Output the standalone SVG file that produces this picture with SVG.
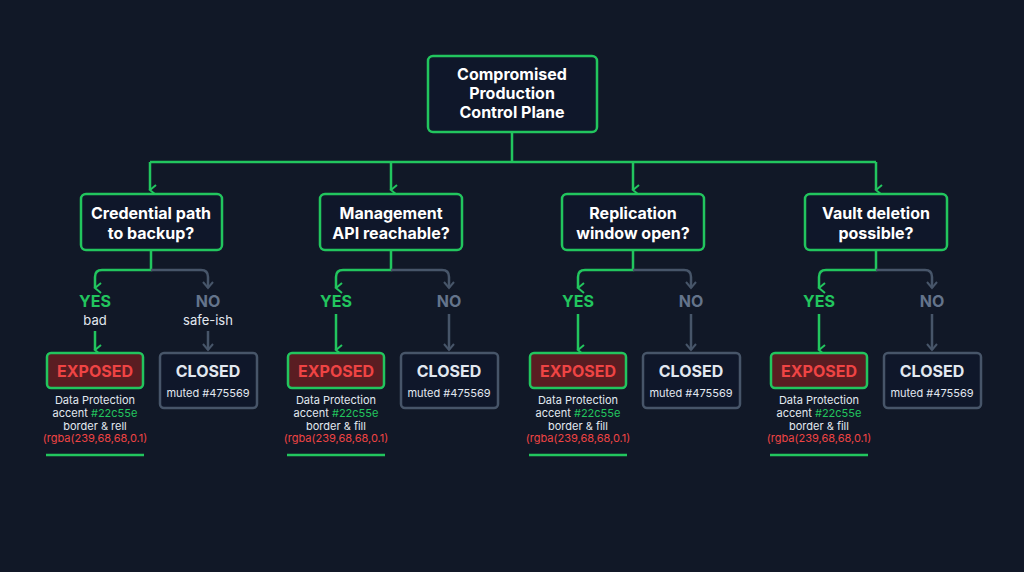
<svg xmlns="http://www.w3.org/2000/svg" width="1024" height="572" viewBox="0 0 1024 572">
<style>
text{font-family:Inter,"Liberation Sans",sans-serif;text-anchor:middle}
.g{stroke:#22c55e;stroke-width:2.5;fill:none}
.m{stroke:#475569;stroke-width:2.5;fill:none}
.box{fill:#0f172a;stroke:#22c55e;stroke-width:2.5}
.t{fill:#fff;font-weight:700;font-size:16px}
.yes{fill:#22c55e;font-weight:700;font-size:16px}
.no{fill:#64748b;font-weight:700;font-size:16px}
.s{fill:#e2e8f0;font-size:13px}
.exp{fill:#5a1d22;stroke:#22c55e;stroke-width:2.5}
.expt{fill:#ef4444;font-weight:700;font-size:16px}
.cl{fill:#0f172a;stroke:#475569;stroke-width:2.5}
.clt{fill:#e2e8f0;font-weight:700;font-size:16px}
.sm{fill:#e2e8f0;font-size:11px}
.ac{fill:#22c55e}
.rd{fill:#ef4444}
</style>
<defs>
<marker id="ag" viewBox="0 0 12 12" refX="6" refY="10" markerWidth="12" markerHeight="12" markerUnits="userSpaceOnUse" orient="auto-start-reverse"><path d="M1,4 L6,10 L11,4" fill="none" stroke="#22c55e" stroke-width="2"/></marker>
<marker id="am" viewBox="0 0 12 12" refX="6" refY="10" markerWidth="12" markerHeight="12" markerUnits="userSpaceOnUse"><path d="M1,4 L6,10 L11,4" fill="none" stroke="#475569" stroke-width="2"/></marker>
</defs>
<rect width="1024" height="572" fill="#111827"/>
<g id="connectors">
<path class="g" d="M512,132 V162 M150,162 H876"/>
<path class="g" d="M150,162 V190" marker-end="url(#ag)"/>
<path class="g" d="M391,162 V190" marker-end="url(#ag)"/>
<path class="g" d="M633,162 V190" marker-end="url(#ag)"/>
<path class="g" d="M876,162 V190" marker-end="url(#ag)"/>
<g id="c1">
<path class="g" d="M151,250 V270 H102 Q95,270 95,277 V288" marker-end="url(#ag)"/>
<path class="m" d="M151,270 H201 Q208,270 208,277 V288" marker-end="url(#am)"/>
<path class="g" d="M95,331 V350" marker-end="url(#ag)"/>
<path class="m" d="M208,331 V350" marker-end="url(#am)"/>
</g>
<path class="g" d="M391,250 V270 H343 Q336,270 336,277 V288" marker-end="url(#ag)"/>
<path class="m" d="M391,270 H442 Q449,270 449,277 V288" marker-end="url(#am)"/>
<path class="g" d="M336,314 V350" marker-end="url(#ag)"/>
<path class="m" d="M449,314 V350" marker-end="url(#am)"/>
<path class="g" d="M633,250 V270 H585 Q578,270 578,277 V288" marker-end="url(#ag)"/>
<path class="m" d="M633,270 H684 Q691,270 691,277 V288" marker-end="url(#am)"/>
<path class="g" d="M578,314 V350" marker-end="url(#ag)"/>
<path class="m" d="M691,314 V350" marker-end="url(#am)"/>
<path class="g" d="M876,250 V270 H826 Q819,270 819,277 V288" marker-end="url(#ag)"/>
<path class="m" d="M876,270 H925 Q932,270 932,277 V288" marker-end="url(#am)"/>
<path class="g" d="M819,314 V350" marker-end="url(#ag)"/>
<path class="m" d="M932,314 V350" marker-end="url(#am)"/>
</g>
<g id="root"><rect class="box" x="428" y="56" width="169" height="76" rx="5"/>
<text class="t" x="512" y="80">Compromised</text><text class="t" x="512" y="99">Production</text><text class="t" x="512" y="118">Control Plane</text></g>
<g id="d1"><rect class="box" x="81" y="194" width="141" height="56" rx="5"/><text class="t" x="151" y="219">Credential path</text><text class="t" x="151" y="239">to backup?</text></g>
<g id="d2"><rect class="box" x="320" y="194" width="142" height="56" rx="5"/><text class="t" x="391" y="219">Management</text><text class="t" x="391" y="239">API reachable?</text></g>
<g id="d3"><rect class="box" x="562" y="194" width="142" height="56" rx="5"/><text class="t" x="633" y="219">Replication</text><text class="t" x="633" y="239">window open?</text></g>
<g id="d4"><rect class="box" x="805" y="194" width="142" height="56" rx="5"/><text class="t" x="876" y="219">Vault deletion</text><text class="t" x="876" y="239">possible?</text></g>
<g id="labels">
<text class="yes" x="95" y="307">YES</text><text class="s" x="95" y="325">bad</text>
<text class="no" x="208" y="307">NO</text><text class="s" x="208" y="325">safe-ish</text>
<text class="yes" x="336" y="307">YES</text><text class="no" x="449" y="307">NO</text>
<text class="yes" x="578" y="307">YES</text><text class="no" x="691" y="307">NO</text>
<text class="yes" x="819" y="307">YES</text><text class="no" x="932" y="307">NO</text>
</g>
<g id="e1"><rect class="exp" x="47" y="353" width="96" height="35" rx="4"/><text class="expt" x="95" y="377">EXPOSED</text>
<text class="sm" x="95" y="404">Data Protection</text><text class="sm" x="95" y="417">accent <tspan class="ac">#22c55e</tspan></text><text class="sm" x="95" y="430">border &amp; rell</text><text class="sm rd" x="95" y="442">(rgba(239,68,68,0.1)</text>
<path class="g" d="M46,455 H144"/></g>
<g id="e2"><rect class="exp" x="288" y="353" width="96" height="35" rx="4"/><text class="expt" x="336" y="377">EXPOSED</text>
<text class="sm" x="336" y="404">Data Protection</text><text class="sm" x="336" y="417">accent <tspan class="ac">#22c55e</tspan></text><text class="sm" x="336" y="430">border &amp; fill</text><text class="sm rd" x="336" y="442">(rgba(239,68,68,0.1)</text>
<path class="g" d="M287,455 H385"/></g>
<g id="e3"><rect class="exp" x="530" y="353" width="96" height="35" rx="4"/><text class="expt" x="578" y="377">EXPOSED</text>
<text class="sm" x="578" y="404">Data Protection</text><text class="sm" x="578" y="417">accent <tspan class="ac">#22c55e</tspan></text><text class="sm" x="578" y="430">border &amp; fill</text><text class="sm rd" x="578" y="442">(rgba(239,68,68,0.1)</text>
<path class="g" d="M529,455 H627"/></g>
<g id="e4"><rect class="exp" x="771" y="353" width="96" height="35" rx="4"/><text class="expt" x="819" y="377">EXPOSED</text>
<text class="sm" x="819" y="404">Data Protection</text><text class="sm" x="819" y="417">accent <tspan class="ac">#22c55e</tspan></text><text class="sm" x="819" y="430">border &amp; fill</text><text class="sm rd" x="819" y="442">(rgba(239,68,68,0.1)</text>
<path class="g" d="M770,455 H868"/></g>
<g id="n1"><rect class="cl" x="160" y="353" width="97" height="55" rx="4"/><text class="clt" x="208" y="377">CLOSED</text><text class="sm" x="208" y="397">muted #475569</text></g>
<g id="n2"><rect class="cl" x="401" y="353" width="97" height="55" rx="4"/><text class="clt" x="449" y="377">CLOSED</text><text class="sm" x="449" y="397">muted #475569</text></g>
<g id="n3"><rect class="cl" x="643" y="353" width="97" height="55" rx="4"/><text class="clt" x="691" y="377">CLOSED</text><text class="sm" x="691" y="397">muted #475569</text></g>
<g id="n4"><rect class="cl" x="884" y="353" width="97" height="55" rx="4"/><text class="clt" x="932" y="377">CLOSED</text><text class="sm" x="932" y="397">muted #475569</text></g>
</svg>
